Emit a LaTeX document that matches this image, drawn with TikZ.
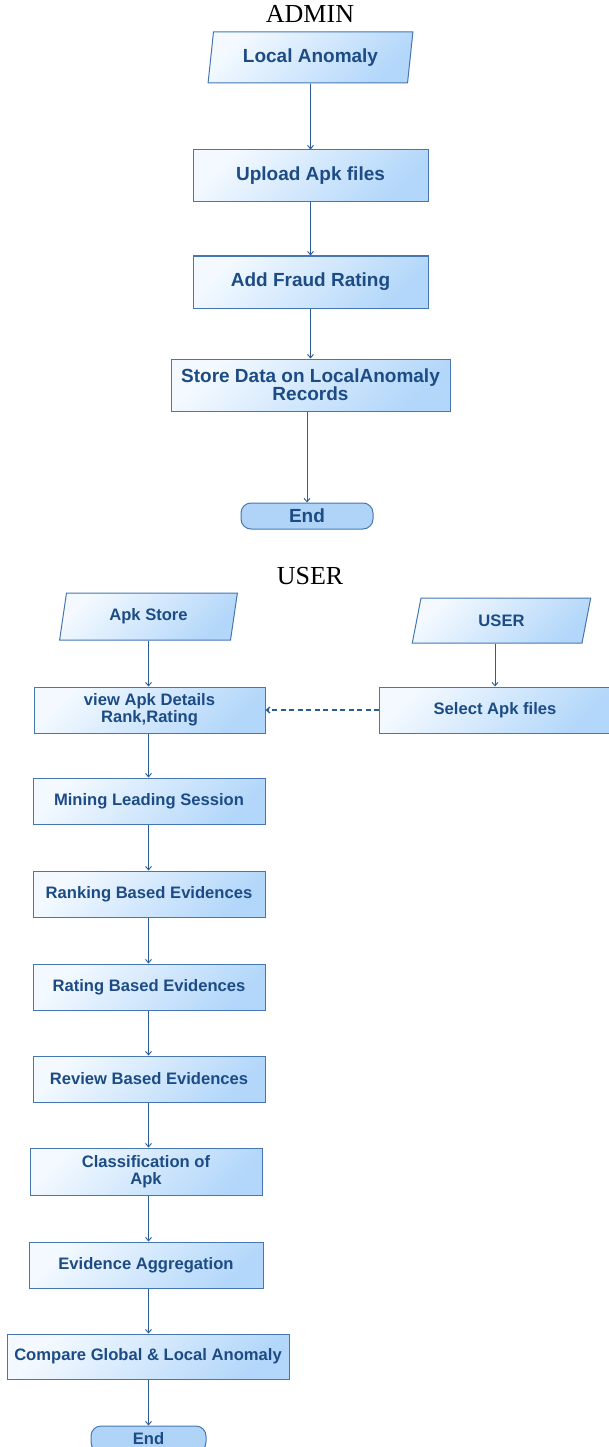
\documentclass[tikz,border=0pt]{standalone}
\usepackage{fontspec}
\setmainfont{Liberation Sans}
\newfontfamily\titlefont{Liberation Serif}
\usetikzlibrary{shapes.geometric,arrows.meta}
\definecolor{bordc}{HTML}{4677B0}
\definecolor{txtc}{HTML}{1D4C85}
\definecolor{arrc}{HTML}{2B5C95}
\definecolor{fillA}{HTML}{F3F9FF}
\definecolor{fillB}{HTML}{B3D7FA}
\definecolor{endfill}{HTML}{B0D4F8}
\begin{document}
\begin{tikzpicture}[x=1pt,y=-1pt,
  afont/.style={font=\fontsize{19}{18}\selectfont\bfseries},
  ufont/.style={font=\fontsize{16.6}{17}\selectfont\bfseries},
  boxbase/.style={draw=bordc, line width=1pt, top color=fillA, bottom color=fillB, shading angle=45,
    text=txtc, inner sep=0pt, align=center},
  abox/.style={boxbase, rectangle, afont},
  ubox/.style={boxbase, rectangle, ufont},
  para/.style={boxbase, trapezium, trapezium left angle=78, trapezium right angle=102, trapezium stretches=true},
  endbox/.style={draw=bordc, line width=1pt, fill=endfill, rounded corners=10pt, text=txtc, inner sep=0pt},
  arr/.style={draw=arrc, line width=0.9pt, -{Straight Barb[length=3.5pt,width=6pt]}},
  titlestyle/.style={font=\titlefont\fontsize{26}{28}\selectfont, text=black, inner sep=0pt, anchor=base}
]
\useasboundingbox (0,0) rectangle (608,1447);

% ADMIN part
\node[titlestyle] (admint) at (310,23) {ADMIN};
\node[para, afont, minimum width=205pt, minimum height=51pt] (la) at (310.5,57.5) {Local Anomaly};
\node[abox, minimum width=235pt, minimum height=52pt] (up) at (310.5,176) {Upload Apk files};
\node[abox, minimum width=235pt, minimum height=52pt] (af) at (310.5,282) {Add Fraud Rating};
\node[abox, minimum width=279pt, minimum height=52pt] (sd) at (310.5,385) {Store Data on LocalAnomaly\\Records};
\node[endbox, afont, minimum width=132pt, minimum height=26pt] (e1) at (307,516) {End};

\draw[arr] (la.south) -- (up.north);
\draw[arr] (up.south) -- (af.north);
\draw[arr] (af.south) -- (sd.north);
\draw[arr] (sd.south -| e1.north) -- (e1.north);

% USER part
\node[titlestyle] (usert) at (310,584) {USER};
\node[para, ufont, minimum width=179pt, minimum height=47pt] (as) at (148.5,616.5) {Apk Store};
\node[para, ufont, minimum width=179pt, minimum height=45pt] (us) at (501.5,620.5) {USER};
\node[ubox, minimum width=231pt, minimum height=46pt] (vd) at (149.5,710) {view Apk Details\\Rank,Rating};
\node[ubox, minimum width=231pt, minimum height=46pt] (sel) at (495,710) {Select Apk files};
\node[ubox, minimum width=232pt, minimum height=46pt] (mi) at (149,801) {Mining Leading Session};
\node[ubox, minimum width=232pt, minimum height=46pt] (rk) at (149,894) {Ranking Based Evidences};
\node[ubox, minimum width=232pt, minimum height=46pt] (rt) at (149,987) {Rating Based Evidences};
\node[ubox, minimum width=232pt, minimum height=46pt] (rv) at (149,1079) {Review Based Evidences};
\node[ubox, minimum width=232pt, minimum height=47pt] (cl) at (146,1171.5) {Classification of\\Apk};
\node[ubox, minimum width=234pt, minimum height=46pt] (ea) at (146,1265) {Evidence Aggregation};
\node[ubox, minimum width=282pt, minimum height=45pt] (cg) at (148,1356.5) {Compare Global \& Local Anomaly};
\node[endbox, ufont, minimum width=115pt, minimum height=26pt] (e2) at (148.5,1439) {End};

\coordinate (ux) at (148.5,0);
\draw[arr] (as.south -| ux) -- (vd.north -| ux);
\draw[arr] (us.south -| sel.north) -- (sel.north);
\draw[arr, dashed, dash pattern=on 5pt off 3.5pt, line width=1.3pt] (sel.west) -- (vd.east);
\draw[arr] (vd.south -| ux) -- (mi.north -| ux);
\draw[arr] (mi.south -| ux) -- (rk.north -| ux);
\draw[arr] (rk.south -| ux) -- (rt.north -| ux);
\draw[arr] (rt.south -| ux) -- (rv.north -| ux);
\draw[arr] (rv.south -| ux) -- (cl.north -| ux);
\draw[arr] (cl.south -| ux) -- (ea.north -| ux);
\draw[arr] (ea.south -| ux) -- (cg.north -| ux);
\draw[arr] (cg.south -| ux) -- (e2.north -| ux);
\end{tikzpicture}
\end{document}
